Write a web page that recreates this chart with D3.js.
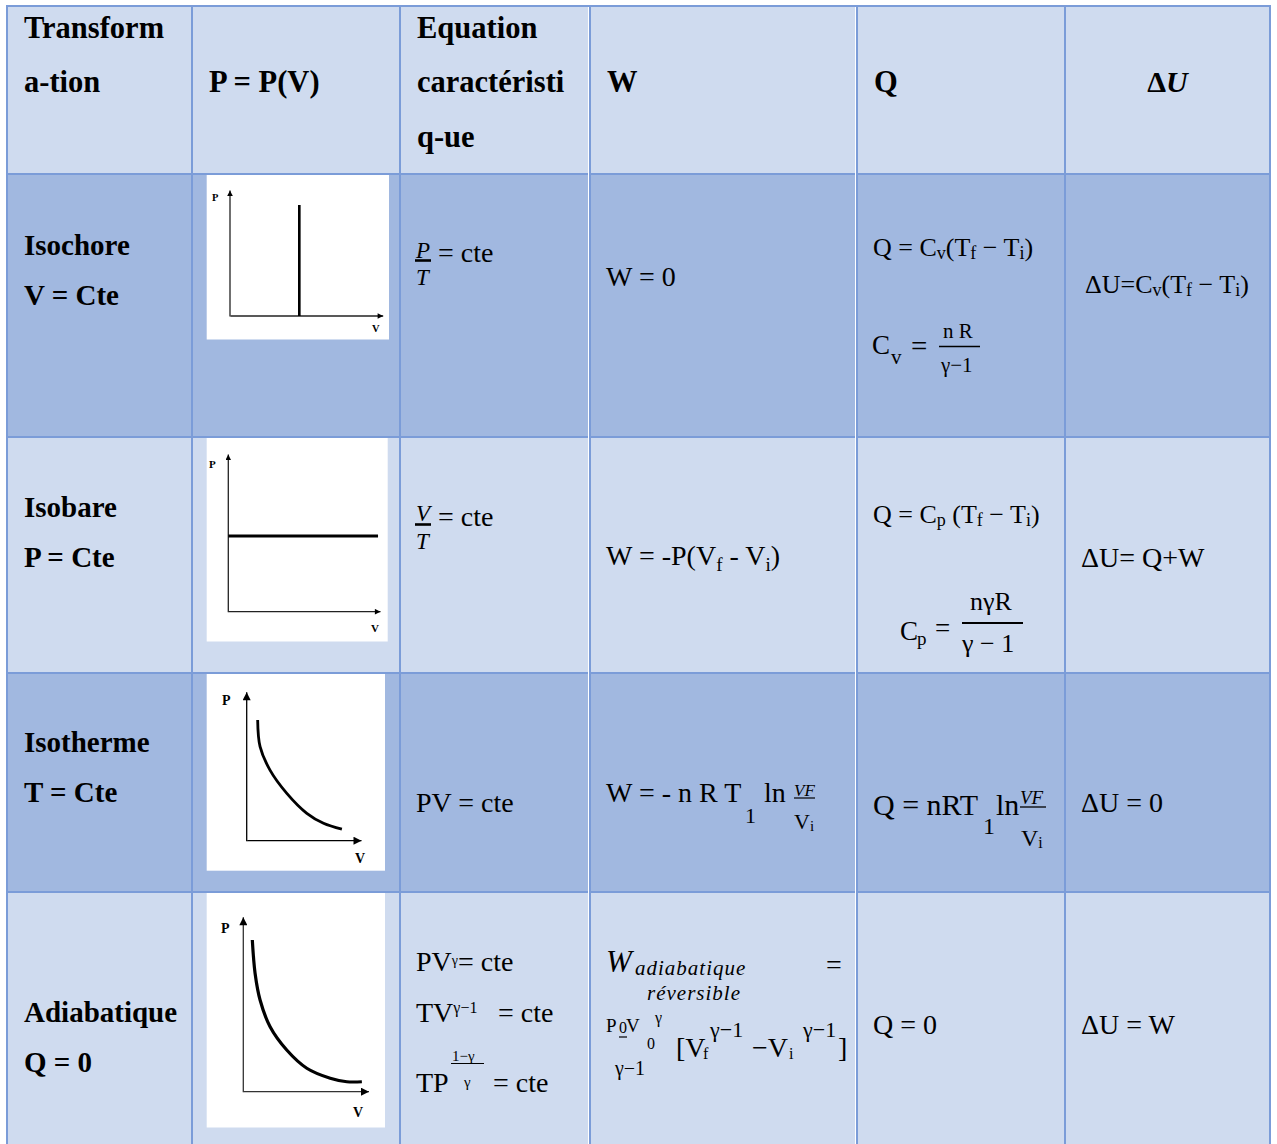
<!DOCTYPE html>
<html>
<head>
<meta charset="utf-8">
<script src="https://cdn.jsdelivr.net/npm/d3@7"></script>
<style>
  body { margin: 0; background: #fff; }
  svg text { font-family: "Liberation Serif", "Times New Roman", serif; white-space: pre; fill: #000; }
</style>
</head>
<body>
<div id="chart"></div>
<script>
// Plot constants
const WIDTH = 1277;
const HEIGHT = 1144;

// ---- data ----
const headers = [["Transform", "a-tion"], ["P = P(V)"], ["Equation", "caractéristi", "q-ue"], ["W"], ["Q"]];
const transformations = ["Isochore", "Isobare", "Isotherme", "Adiabatique"];
const constants = ["V = Cte", "P = Cte", "T = Cte", "Q = 0"];
const rowShade = ["dark", "light", "dark", "light"];

const isochore = [{v: 4.54, p: 0}, {v: 4.54, p: 8.81}];
const isobare = [{v: 0, p: 4.8}, {v: 9.87, p: 4.8}];
const isotherme = [
  {v: 0.96, p: 8.1}, {v: 1.17, p: 6.31}, {v: 2.04, p: 4.74}, {v: 3.51, p: 3.18},
  {v: 5.26, p: 1.84}, {v: 6.72, p: 1.17}, {v: 8.33, p: 0.77}
];
const adiabatique = [
  {v: 0.72, p: 8.67}, {v: 0.94, p: 6.77}, {v: 1.34, p: 5.24}, {v: 2.14, p: 3.71},
  {v: 3.47, p: 2.38}, {v: 5.07, p: 1.34}, {v: 6.94, p: 0.77}, {v: 8.27, p: 0.57},
  {v: 9.47, p: 0.57}
];

// ---- layout ----
const colX = [7, 192, 400, 590, 857, 1065, 1270];
const rowY = [6, 174, 437, 673, 892, 1150];
const fills = {light: "#CFDBEF", dark: "#A1B8E0"};
const borderColor = "#7B9CD8";

const svg = d3.select("#chart").append("svg")
  .attr("width", WIDTH).attr("height", HEIGHT);
const defs = svg.append("defs");

// cell backgrounds
svg.append("rect")
  .attr("x", colX[0]).attr("y", rowY[0])
  .attr("width", colX[6] - colX[0]).attr("height", rowY[1] - rowY[0])
  .attr("fill", fills.light);
svg.selectAll("rect.row").data(rowShade).enter().append("rect")
  .attr("class", "row")
  .attr("x", colX[0]).attr("y", (d, i) => rowY[i + 1])
  .attr("width", colX[6] - colX[0])
  .attr("height", (d, i) => rowY[i + 2] - rowY[i + 1])
  .attr("fill", d => fills[d]);

// white plot boxes + curves
const smooth = d3.curveCatmullRom.alpha(0.5);
const plots = [
  {data: isochore, box: [206.7, 175, 182.3, 164.5], origin: [230, 316], end: [382.7, 190],
   lw: 2.6, axisColor: "#222", arrow: 7, label: 10.5, P: [212, 201], V: [372, 332], curve: d3.curveLinear},
  {data: isobare, box: [206.7, 437.5, 181, 204], origin: [228.3, 611.7], end: [380, 454],
   lw: 2.8, axisColor: "#222", arrow: 7, label: 11, P: [209, 468], V: [371, 632], curve: d3.curveLinear},
  {data: isotherme, box: [206.7, 674, 178.3, 196.7], origin: [246.7, 840.7], end: [361, 691.7],
   lw: 2.8, axisColor: "#000", arrow: 10, label: 14, P: [222, 705], V: [355, 863], curve: smooth},
  {data: adiabatique, box: [206.7, 893, 178.3, 234.5], origin: [243.3, 1091.7], end: [368.5, 916.7],
   lw: 3.2, axisColor: "#333", arrow: 10, label: 14, P: [221, 933], V: [353, 1117], curve: smooth}
];

plots.forEach((pl, k) => {
  const g = svg.append("g");
  g.append("rect")
    .attr("x", pl.box[0]).attr("y", pl.box[1])
    .attr("width", pl.box[2]).attr("height", pl.box[3])
    .attr("fill", "#fff");

  const x = d3.scaleLinear().domain([0, 10]).range([pl.origin[0], pl.end[0]]);
  const y = d3.scaleLinear().domain([0, 10]).range([pl.origin[1], pl.end[1]]);

  // flèche
  defs.append("marker")
    .attr("id", "arrow" + k)
    .attr("viewBox", "0 0 10 10")
    .attr("refX", 10).attr("refY", 5)
    .attr("markerUnits", "userSpaceOnUse")
    .attr("markerWidth", pl.arrow).attr("markerHeight", pl.arrow * 0.8)
    .attr("orient", "auto")
    .append("path").attr("d", "M0,0L10,5L0,10Z").attr("fill", "#000");

  const xAxis = d3.axisBottom(x).tickValues([]).tickSizeOuter(0);
  const yAxis = d3.axisLeft(y).tickValues([]).tickSizeOuter(0);
  g.append("g").attr("transform", `translate(0,${pl.origin[1] - 0.5})`).call(xAxis)
    .select(".domain").attr("stroke", pl.axisColor).attr("stroke-width", 1.3)
    .attr("marker-end", `url(#arrow${k})`);
  g.append("g").attr("transform", `translate(${pl.origin[0] - 0.5},0)`).call(yAxis)
    .select(".domain").attr("stroke", pl.axisColor).attr("stroke-width", 1.3)
    .attr("marker-end", `url(#arrow${k})`);

  const line = d3.line().x(d => x(d.v)).y(d => y(d.p)).curve(pl.curve);
  g.append("path").datum(pl.data)
    .attr("d", line)
    .attr("fill", "none").attr("stroke", "#000")
    .attr("stroke-width", pl.lw);

  g.append("text").attr("x", pl.P[0]).attr("y", pl.P[1])
    .attr("font-size", pl.label).attr("font-weight", "bold").text("P");
  g.append("text").attr("x", pl.V[0]).attr("y", pl.V[1])
    .attr("font-size", pl.label).attr("font-weight", "bold").text("V");
});

// grid
svg.selectAll("line.v").data(colX).enter().append("line")
  .attr("x1", d => d).attr("x2", d => d)
  .attr("y1", rowY[0]).attr("y2", rowY[5])
  .attr("stroke", borderColor).attr("stroke-width", 2);
svg.selectAll("line.h").data(rowY.slice(0, 5)).enter().append("line")
  .attr("x1", colX[0] - 1).attr("x2", colX[6] + 1)
  .attr("y1", d => d).attr("y2", d => d)
  .attr("stroke", borderColor).attr("stroke-width", 2);
[588.5, 855.5].forEach(xx => {
  svg.append("line").attr("x1", xx).attr("x2", xx)
    .attr("y1", rowY[0] + 1).attr("y2", rowY[5])
    .attr("stroke", "#fff").attr("stroke-width", 1);
});

// ---- texte ----
function txt(x, y, parts, size = 28, opt = {}) {
  const t = svg.append("text").attr("x", x).attr("y", y).attr("font-size", size);
  if (opt.bold) t.attr("font-weight", "bold");
  if (opt.italic) t.attr("font-style", "italic");
  if (opt.ls) t.attr("letter-spacing", opt.ls);
  if (opt.anchor) t.attr("text-anchor", opt.anchor);
  let cur = 0;
  (Array.isArray(parts) ? parts : [parts]).forEach(p => {
    const o = typeof p === "string" ? {s: p} : p;
    const dy = o.dy || 0;
    const ts = t.append("tspan").text(o.s).attr("dy", dy - cur);
    cur = dy;
    if (o.size) ts.attr("font-size", o.size);
    if (o.it) ts.attr("font-style", "italic");
    if (o.b) ts.attr("font-weight", "bold");
  });
  return t;
}
const sub = (s, size, dy) => ({s, size, dy});
function bar(x1, x2, y, w = 1.5) {
  svg.append("line").attr("x1", x1).attr("x2", x2).attr("y1", y).attr("y2", y)
    .attr("stroke", "#000").attr("stroke-width", w);
}

// en-têtes
const headerBase = [[38, 92], [92], [38, 92, 147], [92], [92]];
headers.forEach((lines, i) => {
  lines.forEach((s, j) => txt(colX[i] + 17, headerBase[i][j], s, 30.5, {bold: true}));
});
txt((colX[5] + colX[6]) / 2, 92, [{s: "Δ"}, {s: "U", it: true}], 30, {bold: true, anchor: "middle"});

// colonne transformation
const labelBase = [[255, 305], [517, 567], [752, 802], [1022, 1072]];
transformations.forEach((s, i) => {
  txt(colX[0] + 17, labelBase[i][0], s, 29, {bold: true});
  txt(colX[0] + 17, labelBase[i][1], constants[i], 29, {bold: true});
});

// ---- Isochore ----
txt(416, 258, "P", 23, {italic: true});
bar(415, 431, 260.5, 2.6);
txt(416, 285, "T", 23, {italic: true});
txt(438, 262, "= cte", 28);
txt(606, 286, "W = 0", 28);
txt(873, 256, ["Q = C", sub("v", 18, 3), sub("(T", null, 0), sub("f", 18, 3), sub(" − T", null, 0), sub("i", 18, 3), sub(")", null, 0)], 26);
txt(872, 354, "C", 27);
txt(891, 364, "v", 21);
txt(911, 356, "=", 29);
txt(943, 338, "n R", 21);
bar(939, 980, 346.5, 1.6);
txt(941, 372, "γ−1", 21);
txt(1085, 293, ["ΔU=C", sub("v", 18, 3), sub("(T", null, 0), sub("f", 18, 3), sub(" − T", null, 0), sub("i", 18, 3), sub(")", null, 0)], 26);

// ---- Isobare ----
txt(416, 521, "V", 23, {italic: true});
bar(415, 431, 524.5, 2.6);
txt(416, 549, "T", 23, {italic: true});
txt(438, 526, "= cte", 28);
txt(606, 565, ["W = -P(V", sub("f", 19, 6), sub(" - V", null, 0), sub("i", 19, 6), sub(")", null, 0)], 28);
txt(873, 523, ["Q = C", sub("p", 18, 3), sub(" (T", null, 0), sub("f", 18, 3), sub(" − T", null, 0), sub("i", 18, 3), sub(")", null, 0)], 26);
txt(900, 640, "C", 27);
txt(917, 645, "p", 19);
txt(935, 637, "=", 27);
txt(970, 610, "nγR", 26);
bar(962, 1023, 623, 2);
txt(962, 652, "γ − 1", 26);
txt(1081, 567, "ΔU= Q+W", 28);

// ---- Isotherme ----
txt(416, 812, "PV = cte", 28);
txt(606, 802, "W = - n R T", 28);
txt(745, 823, "1", 22);
txt(764, 802, "ln", 28);
txt(794, 796, "VF", 17, {italic: true});
bar(794, 815, 798, 1.2);
txt(794, 829, ["V", sub("i", 15, 2)], 22);
txt(873, 815, "Q = nRT", 30);
txt(983, 834, "1", 24);
txt(996, 815, "ln", 30);
txt(1020, 804, "VF", 19, {italic: true});
bar(1020, 1046, 807, 1.3);
txt(1021, 846, ["V", sub("i", 16, 2)], 24);
txt(1081, 812, "ΔU = 0", 28);

// ---- Adiabatique ----
txt(416, 971, ["PV", sub("γ", 14, -6), sub("= cte", null, 0)], 28);
txt(416, 1022, ["TV", sub("γ−1", 16, -9)], 28);
txt(498, 1022, "= cte", 28);
txt(416, 1092, "TP", 28);
txt(452, 1061, "1−γ", 15);
bar(451, 484, 1063.5, 1.2);
txt(464, 1087, "γ", 15);
txt(493, 1092, "= cte", 28);

txt(606, 972, "W", 31, {italic: true});
txt(635, 975, "adiabatique", 21, {italic: true, ls: 1});
txt(826, 974, "=", 28);
txt(647, 1000, "réversible", 21, {italic: true, ls: 1});
txt(606, 1032, "P", 19);
txt(619, 1033, "0", 16);
bar(619, 627, 1037, 1.2);
txt(626, 1032, "V", 19);
txt(655, 1023, "γ", 16);
txt(647, 1049, "0", 16);
txt(615, 1075, "γ−1", 20);
txt(676, 1057, "[V", 28);
txt(703, 1059, "f", 16);
txt(710, 1037, "γ−1", 22);
txt(752, 1057, "−V", 28);
txt(789, 1059, "i", 16);
txt(803, 1037, "γ−1", 22);
txt(838, 1057, "]", 28);

txt(873, 1034, "Q = 0", 28);
txt(1081, 1034, "ΔU = W", 28);
</script>
</body>
</html>
